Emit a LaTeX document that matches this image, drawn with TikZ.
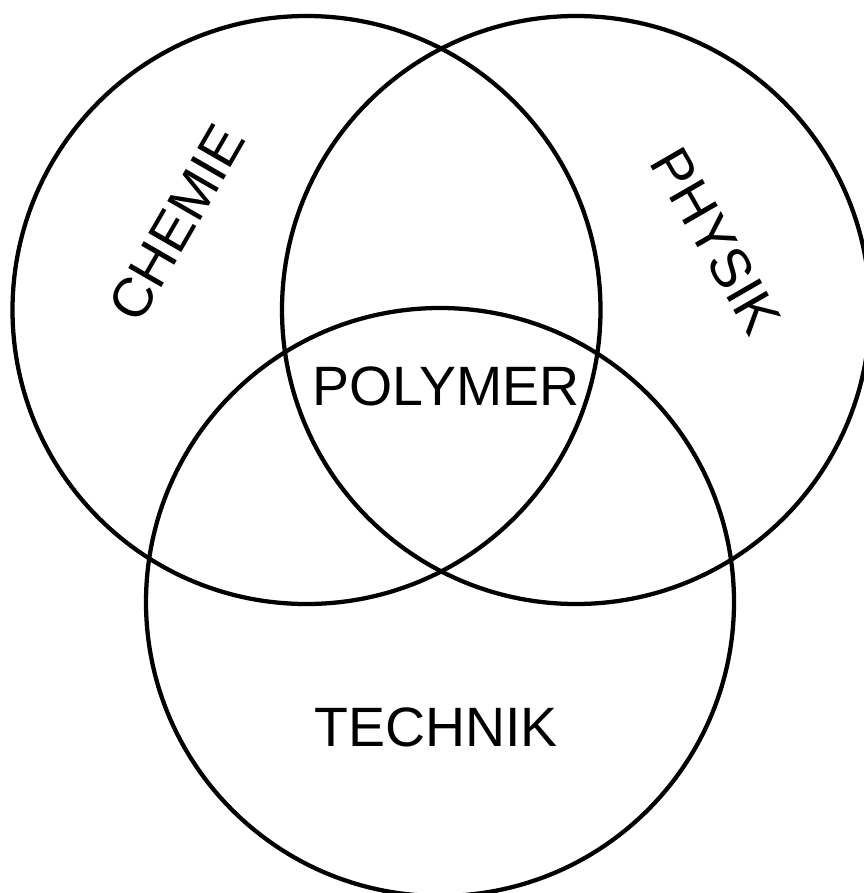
\documentclass[tikz,border=0pt]{standalone}
\usepackage{fontspec}
\setmainfont{Liberation Sans}
\begin{document}
\begin{tikzpicture}[x=0.75pt,y=-0.75pt,
  setring/.style={circle,draw=black,line width=3.2pt,minimum size=441pt,inner sep=0pt},
  setlabel/.style={inner sep=0pt,font=\fontsize{41.6}{50}\selectfont}]
\useasboundingbox (0,0) rectangle (864,893);
\node[setring] (chemie) at (306.5,310) {};
\node[setring] (physik) at (576,310) {};
\node[setring] (technik) at (440,602) {};
\node[setlabel,rotate=60] (tchemie) at (177,223) {CHEMIE};
\node[setlabel,rotate=-60] (tphysik) at (716,241) {PHYSIK};
\node[setlabel] (tpolymer) at (446,386) {POLYMER};
\node[setlabel] (ttechnik) at (436,727) {TECHNIK};
\end{tikzpicture}
\end{document}
